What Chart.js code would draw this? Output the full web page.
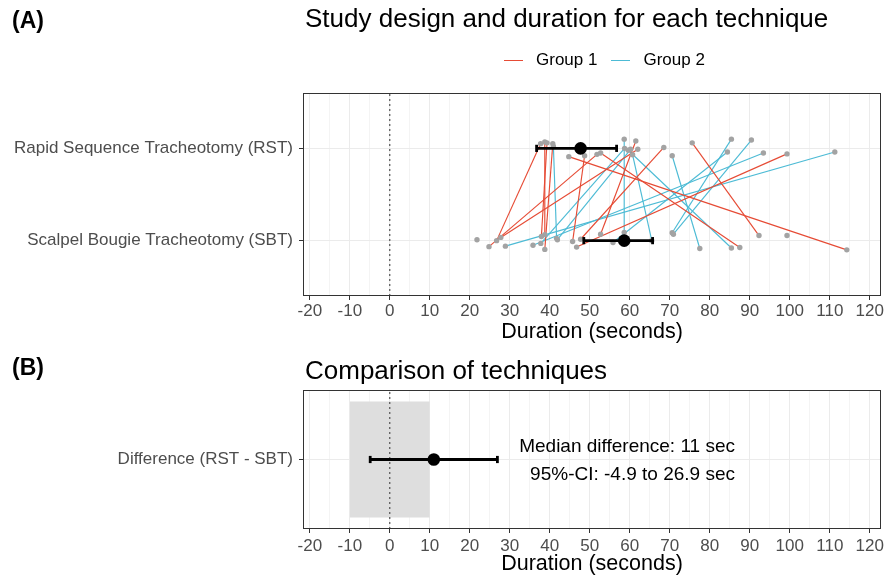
<!DOCTYPE html>
<html><head><meta charset="utf-8">
<script src="https://cdn.jsdelivr.net/npm/chart.js@4.4.1/dist/chart.umd.min.js"></script>
<style>
body{margin:0;background:#fff;width:896px;height:577px;overflow:hidden;position:relative;font-family:"Liberation Sans",Arial,sans-serif;}
.t{position:absolute;white-space:nowrap;line-height:1;color:#000;z-index:2;}
canvas{position:absolute;left:0;z-index:1;}
.lg{position:absolute;top:51px;height:18px;z-index:2;font-size:17px;line-height:18px;white-space:nowrap;}
.lg span.k{display:inline-block;width:19px;height:0;border-top:1.2px solid;vertical-align:middle;margin-right:13px;}
.lg span.l{margin-right:14px;}
</style></head><body>
<canvas id="cA" width="896" height="345" style="top:0"></canvas>
<canvas id="cB" width="896" height="232" style="top:345px"></canvas>
<div class="t" style="left:12px;top:9px;font-size:23px;font-weight:bold">(A)</div>
<div class="t" style="left:305px;top:5px;font-size:26px">Study design and duration for each technique</div>
<div class="lg" id="legend" style="left:504px"></div>
<div class="t" style="left:12px;top:356px;font-size:23px;font-weight:bold">(B)</div>
<div class="t" style="left:305px;top:357px;font-size:26px">Comparison of techniques</div>
<script>
// ---------- data ----------
const categories = ["Rapid Sequence Tracheotomy (RST)", "Scalpel Bougie Tracheotomy (SBT)"];
const diffCategory = ["Difference (RST - SBT)"];
const xTicks = [-20,-10,0,10,20,30,40,50,60,70,80,90,100,110,120];
const groupNames = ["Group 1", "Group 2"];

// Group 1: RST duration, vertical jitter, SBT duration, vertical jitter
const g1Rst    = [37.7, 38.75, 39.3, 40.75, 44.75, 48.7, 51.8, 52.7, 61.5, 62.0, 68.5, 75.6, 99.3];
const g1RstJit = [0.05, 0.07, 0.06, 0.05, -0.09, -0.08, -0.065, -0.05, 0.08, -0.01, 0.01, 0.06, -0.06];
const g1Sbt    = [26.7, 38.75, 37.9, 38.75, 114.25, 45.7, 24.8, 87.5, 52.7, 27.75, 47.7, 92.3, 46.7];
const g1SbtJit = [0.0, 0.065, 0.045, -0.095, -0.10, -0.01, -0.065, -0.075, 0.07, 0.035, 0.015, 0.055, -0.07];

// Group 2
const g2Rst    = [40.9, 58.6, 58.7, 59.6, 60.2, 60.7, 70.6, 84.4, 85.4, 90.4, 93.4, 111.25];
const g2RstJit = [0.02, 0.10, 0.0, -0.02, -0.01, -0.07, -0.08, -0.04, 0.10, 0.09, -0.05, -0.04];
const g2Sbt    = [41.7, 58.6, 37.75, 85.4, 41.9, 65.5, 77.5, 55.8, 70.6, 70.9, 35.8, 28.9];
const g2SbtJit = [0.025, 0.09, -0.03, -0.08, 0.01, 0.0, -0.085, -0.02, 0.085, 0.07, -0.05, -0.06];

// single measurements without a partner
const unpairedSbt    = [21.8, 99.3];
const unpairedSbtJit = [0.01, 0.055];

// medians with 95% CI
const rstMedian = 47.7, rstCi = [36.7, 56.7];
const sbtMedian = 58.6, sbtCi = [48.5, 65.7];
const diffMedian = 11, diffCi = [-4.9, 26.9];
const equivBand = [-10, 10];

// ---------- setup ----------
const FONT = '"Liberation Sans", Arial, sans-serif';
const COLORS = ['#E64B35', '#4DBBD5'];
const X_MIN = -21.7, X_MAX = 122.8;

document.getElementById('legend').innerHTML = groupNames.map((g, i) =>
  `<span class="k" style="border-color:${COLORS[i]}"></span><span class="l">${g}</span>`).join('');

function xScale(h, tickPad, titlePad) {
  return {
    type: 'linear', min: X_MIN, max: X_MAX,
    afterBuildTicks(s) {
      const t = [];
      xTicks.forEach(v => { t.push({value: v}); if (v + 5 <= X_MAX) t.push({value: v + 5}); });
      s.ticks = t;
    },
    afterFit(s) { s.height = h; },
    ticks: {
      autoSkip: false, maxRotation: 0, padding: tickPad, color: '#4D4D4D',
      font: {family: FONT, size: 17},
      callback: v => (v % 10 === 0 ? String(v) : '')
    },
    grid: {
      color: c => (c.tick && c.tick.value % 10 === 0 ? '#EBEBEB' : '#F4F4F4'),
      lineWidth: 1, tickLength: 4,
      tickColor: c => (c.tick && c.tick.value % 10 === 0 ? '#333333' : 'rgba(0,0,0,0)')
    },
    border: {display: false},
    title: {display: true, text: 'Duration (seconds)', color: '#000',
      font: {family: FONT, size: 21.5}, padding: {top: 0, bottom: titlePad}}
  };
}
function yScale(min, max, labels) {
  return {
    type: 'linear', min: min, max: max,
    afterBuildTicks(s) { s.ticks = labels.map((_, i) => ({value: labels.length - i})); },
    afterFit(s) { s.width = 303; },
    ticks: {
      padding: 6, color: '#4D4D4D', font: {family: FONT, size: 17},
      callback: v => labels[labels.length - v]
    },
    grid: {color: '#EBEBEB', lineWidth: 1, tickLength: 4, tickColor: '#333333'},
    border: {display: false}
  };
}
const panelBorder = {
  id: 'panelBorder',
  afterDatasetsDraw(chart) {
    const {ctx, chartArea: a} = chart;
    ctx.save(); ctx.strokeStyle = '#333333'; ctx.lineWidth = 1;
    ctx.strokeRect(Math.round(a.left) + 0.5, Math.round(a.top) + 0.5,
      Math.round(a.right - a.left) - 1, Math.round(a.bottom - a.top) - 1);
    ctx.restore();
  }
};
function errorBar(lo, hi, y) {
  return {data: [{x: lo, y: y}, {x: hi, y: y}], showLine: true, borderColor: '#000',
    borderWidth: 2.8, pointStyle: 'line', rotation: 90, pointRadius: 3.6,
    pointBorderColor: '#000', pointBorderWidth: 2.8, order: 1};
}
function medianPoint(m, y) {
  return {data: [{x: m, y: y}], pointRadius: 6.3, backgroundColor: '#000',
    pointBorderWidth: 0, order: 0};
}
function zeroLine(ymin, ymax) {
  return {data: [{x: 0, y: ymin}, {x: 0, y: ymax}], showLine: true, borderColor: '#333333',
    borderWidth: 1, borderDash: [2, 3], pointRadius: 0, order: 6};
}
const common = {
  responsive: false, animation: false, devicePixelRatio: 1, events: [],
  plugins: {legend: {display: false}, tooltip: {enabled: false}, title: {display: false}}
};

// ---------- Panel A ----------
const dsA = [];
const groups = [[g1Rst, g1RstJit, g1Sbt, g1SbtJit], [g2Rst, g2RstJit, g2Sbt, g2SbtJit]];
const grayPts = [];
groups.forEach((g, gi) => {
  const [r, rj, s, sj] = g;
  r.forEach((v, i) => {
    const p1 = {x: v, y: 2 + rj[i]}, p2 = {x: s[i], y: 1 + sj[i]};
    dsA.push({data: [p1, p2], showLine: true, borderColor: COLORS[gi], borderWidth: 1.15,
      pointRadius: 0, order: 4});
    grayPts.push(p1, p2);
  });
});
unpairedSbt.forEach((v, i) => grayPts.push({x: v, y: 1 + unpairedSbtJit[i]}));
dsA.push({data: grayPts, pointRadius: 2.7, backgroundColor: '#A3A3A3', pointBorderWidth: 0, order: 2});
dsA.push(zeroLine(0.4, 2.6));
dsA.push(errorBar(rstCi[0], rstCi[1], 2));
dsA.push(errorBar(sbtCi[0], sbtCi[1], 1));
dsA.push(medianPoint(rstMedian, 2));
dsA.push(medianPoint(sbtMedian, 1));

new Chart(document.getElementById('cA'), {
  type: 'scatter',
  data: {datasets: dsA},
  options: Object.assign({}, common, {
    layout: {padding: {top: 93, right: 15, bottom: 0, left: 0}},
    scales: {x: xScale(49, 1, 0), y: yScale(0.4, 2.6, categories)}
  }),
  plugins: [panelBorder]
});

// ---------- Panel B ----------
const annotation = {
  id: 'annotation',
  afterDatasetsDraw(chart) {
    const {ctx, scales} = chart;
    const x = scales.x.getPixelForValue(86.3);
    ctx.save();
    ctx.font = '19px ' + FONT; ctx.fillStyle = '#000';
    ctx.textAlign = 'right'; ctx.textBaseline = 'middle';
    ctx.fillText('Median difference: ' + diffMedian + ' sec', x, scales.y.getPixelForValue(1.11));
    ctx.fillText('95%-CI: ' + diffCi[0] + ' to ' + diffCi[1] + ' sec', x, scales.y.getPixelForValue(0.872));
    ctx.restore();
  }
};
const dsB = [
  {data: [{x: equivBand[0], y: 1.5}, {x: equivBand[1], y: 1.5}], showLine: true, borderWidth: 0,
    borderColor: 'rgba(0,0,0,0)', pointRadius: 0, fill: {value: 0.5}, backgroundColor: '#DEDEDE', order: 8},
  zeroLine(0.4, 1.6),
  errorBar(diffCi[0], diffCi[1], 1),
  medianPoint(diffMedian, 1)
];
new Chart(document.getElementById('cB'), {
  type: 'scatter',
  data: {datasets: dsB},
  options: Object.assign({}, common, {
    layout: {padding: {top: 45, right: 15, bottom: 0, left: 0}},
    scales: {x: xScale(48, 3, 0), y: yScale(0.4, 1.6, diffCategory)}
  }),
  plugins: [panelBorder, annotation]
});
</script>
</body></html>
